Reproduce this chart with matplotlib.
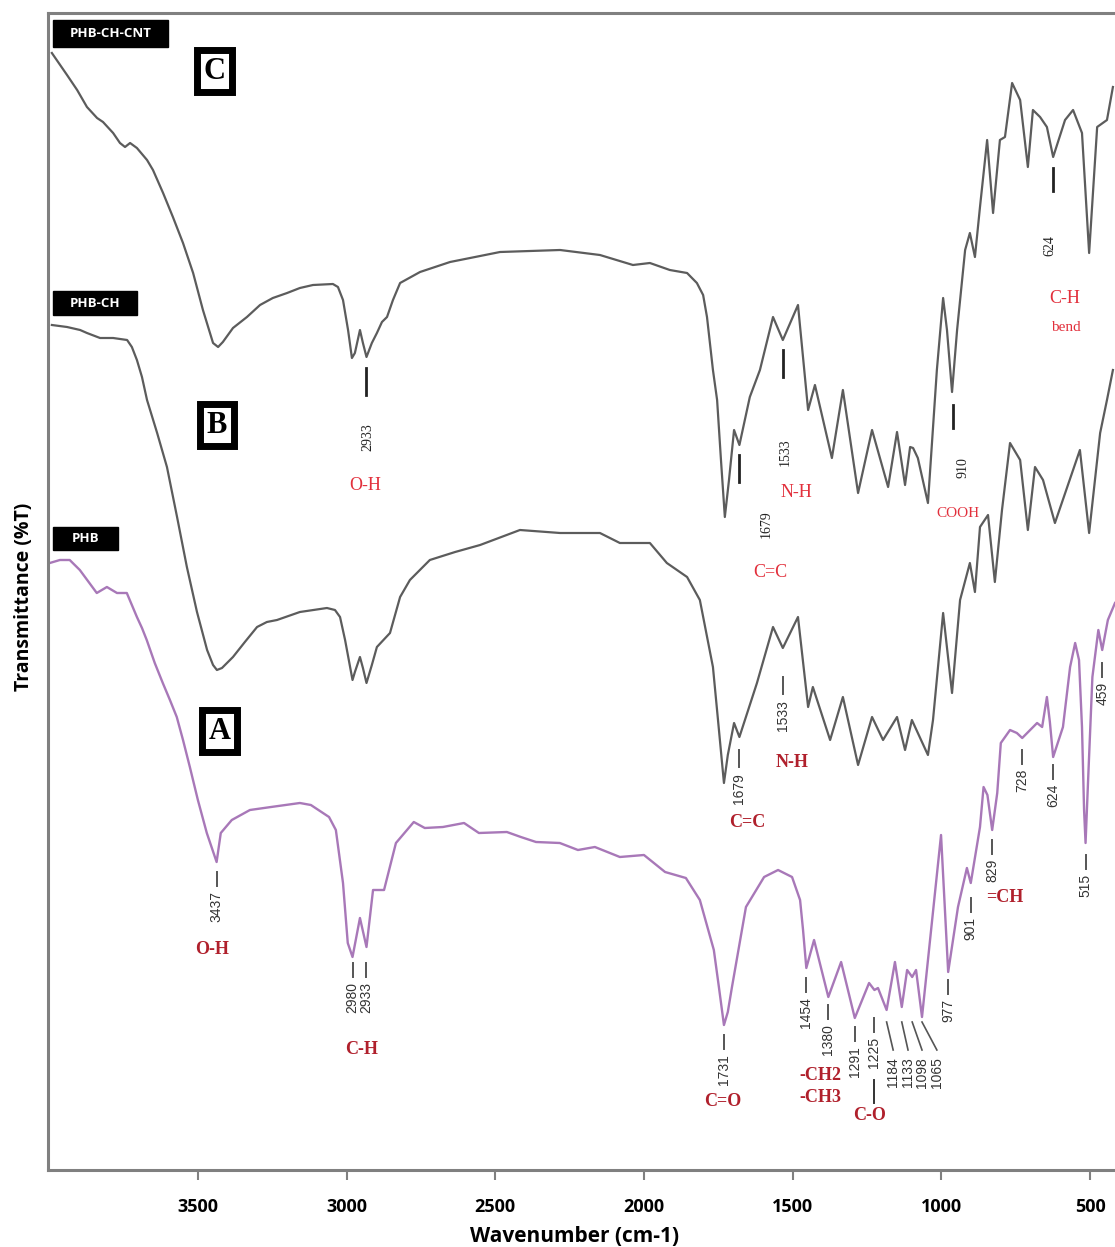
import numpy as np
import matplotlib.pyplot as plt
from matplotlib.patches import Rectangle

# FTIR spectra: wavenumber (cm-1) and offset transmittance (a.u.)
cnt_wn = [3991, 3940, 3906, 3873, 3839, 3819, 3785, 3762, 3745, 3728, 3705, 3671, 3651, 3617,
          3584, 3550, 3516, 3483, 3449, 3432, 3416, 3382, 3335, 3291, 3248, 3200, 3157, 3113,
          3046, 3029, 3012, 2995, 2982, 2972, 2955, 2945, 2933, 2915, 2898, 2881, 2864, 2844,
          2820, 2753, 2652, 2551, 2484, 2383, 2282, 2148, 2037, 1980, 1913, 1855, 1822, 1801,
          1788, 1768, 1754, 1741, 1728, 1714, 1697, 1679, 1644, 1610, 1566, 1533, 1482, 1448,
          1425, 1368, 1331, 1280, 1233, 1179, 1149, 1122, 1105, 1095, 1079, 1045, 1015, 994,
          981, 964, 947, 920, 904, 887, 870, 846, 826, 803, 786, 762, 735, 709, 692, 668, 645,
          624, 584, 557, 527, 503, 476, 443, 423]
cnt_t = [111.7, 109.5, 108.0, 106.3, 105.2, 104.8, 103.7, 102.7, 102.3, 102.7, 102.2, 101.0,
         100.0, 97.7, 95.3, 92.7, 89.7, 86.0, 82.7, 82.3, 82.8, 84.2, 85.3, 86.5, 87.2, 87.7,
         88.2, 88.5, 88.6, 88.3, 87.0, 84.0, 81.2, 81.7, 84.0, 82.7, 81.3, 82.7, 83.7, 84.8,
         85.3, 87.0, 88.7, 89.8, 90.8, 91.4, 91.8, 91.9, 92.0, 91.5, 90.5, 90.7, 90.0, 89.7,
         88.7, 87.5, 85.3, 80.0, 77.0, 71.0, 65.3, 69.0, 74.0, 72.5, 77.3, 80.0, 85.3, 83.0,
         86.5, 76.0, 78.5, 71.2, 78.0, 67.7, 74.0, 68.3, 73.8, 68.5, 72.3, 72.2, 71.2, 66.7,
         80.0, 87.2, 84.0, 77.8, 84.0, 92.0, 93.7, 91.3, 96.3, 103.0, 95.7, 103.0, 103.3, 108.7,
         107.0, 100.3, 106.0, 105.3, 104.3, 101.3, 105.0, 106.0, 103.7, 91.7, 104.3, 105.0,
         108.3]

ch_wn = [3991, 3940, 3896, 3873, 3829, 3785, 3738, 3722, 3705, 3688, 3671, 3637, 3604, 3570,
         3537, 3503, 3469, 3449, 3436, 3419, 3382, 3342, 3301, 3268, 3234, 3157, 3066, 3039,
         3022, 3005, 2980, 2972, 2955, 2945, 2933, 2915, 2898, 2854, 2837, 2820, 2787, 2720,
         2635, 2551, 2417, 2282, 2148, 2081, 1980, 1923, 1855, 1812, 1768, 1751, 1731, 1718,
         1697, 1679, 1620, 1566, 1533, 1482, 1448, 1432, 1374, 1331, 1280, 1233, 1196, 1149,
         1122, 1099, 1045, 1028, 994, 964, 937, 904, 887, 870, 843, 820, 796, 769, 735, 709,
         685, 658, 618, 534, 503, 466, 443, 423]
ch_t = [84.5, 84.3, 84.0, 83.7, 83.2, 83.2, 83.0, 82.3, 81.0, 79.3, 77.0, 73.7, 70.3, 65.3,
        60.3, 55.8, 52.0, 50.5, 50.0, 50.2, 51.3, 52.8, 54.3, 54.8, 55.0, 55.8, 56.2, 56.0,
        55.3, 53.0, 49.0, 49.8, 51.3, 50.2, 48.7, 50.5, 52.3, 53.7, 55.5, 57.3, 59.0, 61.0,
        61.8, 62.5, 64.0, 63.7, 63.7, 62.7, 62.7, 60.7, 59.3, 57.0, 50.3, 45.0, 38.7, 41.5,
        44.7, 43.3, 48.7, 54.3, 52.2, 55.3, 46.3, 48.3, 43.0, 47.3, 40.5, 45.3, 43.0, 45.3,
        42.0, 45.0, 41.5, 45.0, 55.7, 47.7, 57.0, 60.7, 57.8, 64.3, 65.5, 58.8, 66.0, 72.7,
        71.0, 64.0, 70.3, 69.0, 64.7, 72.0, 63.7, 73.7, 77.0, 80.0]

phb_wn = [3998, 3964, 3931, 3897, 3840, 3806, 3772, 3739, 3705, 3688, 3672, 3645, 3618, 3594,
          3571, 3550, 3527, 3500, 3470, 3437, 3423, 3386, 3325, 3254, 3157, 3120, 3059, 3036,
          3012, 2996, 2980, 2955, 2933, 2911, 2874, 2834, 2774, 2737, 2676, 2605, 2555, 2461,
          2414, 2363, 2283, 2222, 2165, 2081, 2000, 1929, 1859, 1812, 1765, 1748, 1731, 1718,
          1704, 1657, 1596, 1549, 1502, 1475, 1465, 1454, 1428, 1380, 1337, 1291, 1243, 1225,
          1213, 1184, 1156, 1133, 1115, 1098, 1085, 1065, 1001, 977, 944, 914, 901, 870, 858,
          845, 829, 812, 800, 769, 746, 728, 678, 661, 645, 635, 624, 591, 567, 550, 537, 527,
          520, 515, 506, 492, 472, 459, 440, 416]
phb_t = [60.7, 61.0, 61.0, 60.0, 57.7, 58.3, 57.7, 57.7, 55.3, 54.2, 53.0, 50.7, 48.7, 47.0,
         45.3, 43.0, 40.3, 37.0, 33.7, 30.8, 33.7, 35.0, 36.0, 36.3, 36.7, 36.5, 35.3, 34.0,
         28.7, 22.7, 21.3, 25.2, 22.3, 28.0, 28.0, 32.7, 34.8, 34.2, 34.3, 34.7, 33.7, 33.8,
         33.3, 32.8, 32.7, 32.0, 32.3, 31.3, 31.5, 29.8, 29.2, 27.0, 22.0, 18.3, 14.5, 15.8,
         18.3, 26.3, 29.3, 30.0, 29.3, 27.0, 24.0, 20.2, 23.0, 17.3, 20.8, 15.2, 18.7, 18.0,
         18.2, 16.0, 20.8, 16.3, 20.0, 19.3, 20.0, 15.3, 33.5, 19.8, 26.3, 30.2, 28.7, 34.3,
         38.3, 37.5, 34.0, 37.7, 42.7, 44.0, 43.7, 43.2, 44.7, 44.3, 47.3, 44.8, 41.3, 44.3,
         50.3, 52.7, 51.0, 44.3, 36.0, 32.7, 39.3, 49.3, 54.0, 52.0, 55.0, 56.7]

# peak labels
phb_peaks = ['3437', '2980', '2933', '1731', '1454', '1380', '1291', '1225',
             '977', '901', '829', '728', '624', '515', '459']
phb_tick_top = [29.8, 20.7, 20.7, 13.5, 19.2, 16.5, 14.3, 15.2,
                19.0, 27.2, 33.0, 42.0, 40.5, 31.5, 50.7]
phb_co_peaks = ['1184', '1133', '1098', '1065']
phb_co_text_wn = [1162, 1112, 1065, 1015]

ch_peaks = ['1679', '1533']
ch_tick_top = [42.0, 49.3]

cnt_peaks = ['2933', '1679', '1533', '910', '624']
cnt_tick_wn = [2933, 1679, 1533, 962, 624]
cnt_tick_top = [80.2, 71.5, 82.0, 76.5, 100.2]
cnt_text_pos = [(2928, 74.7), (1590, 66.0), (1525, 73.2), (927, 71.3), (635, 93.5)]

cnt_groups = [('O-H', 2938, 68.5), ('N-H', 1486, 67.8), ('C=C', 1576, 59.8),
              ('COOH', 944, 65.7), ('C-H', 584, 87.2), ('bend', 581, 84.3)]
ch_groups = [('N-H', 1502, 40.8), ('C=C', 1654, 34.8)]
phb_groups = [('O-H', 3452, 22.0), ('C-H', 2951, 12.0), ('C=O', 1734, 6.8),
              ('-CH2', 1408, 9.5), ('-CH3', 1408, 7.3), ('C-O', 1243, 5.5), ('=CH', 786, 27.2)]

GRAY = '#5c5c5c'
PURPLE = '#a878b8'
DARKRED = '#b0202c'
RED = '#e2303c'
SERIF = 'Liberation Serif'
SANS = 'Liberation Sans'

fig = plt.figure(figsize=(11.15, 12.47), dpi=100)
ax = fig.add_axes([48 / 1115, 77 / 1247, 1067 / 1115, 1157 / 1247])

ax.plot(cnt_wn, cnt_t, color=GRAY, lw=1.6, solid_joinstyle='round')
ax.plot(ch_wn, ch_t, color=GRAY, lw=1.6, solid_joinstyle='round')
ax.plot(phb_wn, phb_t, color=PURPLE, lw=1.7, solid_joinstyle='round')

ax.set_xlim(4004, 416)
ax.set_ylim(0, 115.7)
ax.set_yticks([])
ax.set_xticks([3500, 3000, 2500, 2000, 1500, 1000, 500])
ax.tick_params(axis='x', length=7, width=1.5, color='#808080', pad=13, labelsize=13)
for lab in ax.get_xticklabels():
    lab.set_fontweight('bold')
    lab.set_family('Open Sans')
for side in ['left', 'top', 'bottom']:
    ax.spines[side].set_color('#808080')
    ax.spines[side].set_linewidth(2.2)
ax.spines['right'].set_visible(False)

fig.text(575 / 1115, 1 - 1236 / 1247, 'Wavenumber (cm-1)', ha='center', va='center',
         fontsize=15, fontweight='bold', family='Open Sans')
fig.text(24 / 1115, 1 - 597 / 1247, 'Transmittance (%T)', ha='center', va='center',
         rotation=90, fontsize=14, fontweight='bold', family='Open Sans')

# PHB peak markers
for lab, top in zip(phb_peaks, phb_tick_top):
    wn = float(lab)
    ax.plot([wn, wn], [top, top - 1.4], color='#555555', lw=1.4)
    ax.text(wn, top - 1.9, lab, rotation=90, ha='center', va='top',
            fontsize=10, family=SANS, color='#333333')
for lab, tx in zip(phb_co_peaks, phb_co_text_wn):
    wn = float(lab)
    ax.plot([wn, tx], [14.8, 12.0], color='#555555', lw=1.2)
    ax.text(tx, 11.3, lab, rotation=90, ha='center', va='top',
            fontsize=10, family=SANS, color='#333333')
ax.plot([1226, 1226], [9.0, 6.7], color='#333333', lw=1.4)

# PHB-CH peak markers
for lab, top in zip(ch_peaks, ch_tick_top):
    wn = float(lab)
    ax.plot([wn, wn], [top, top - 1.7], color='#555555', lw=1.4)
    ax.text(wn, top - 2.3, lab, rotation=90, ha='center', va='top',
            fontsize=10, family=SANS, color='#333333')

# PHB-CH-CNT peak markers
for lab, wn, top, (tx, ty) in zip(cnt_peaks, cnt_tick_wn, cnt_tick_top, cnt_text_pos):
    ax.plot([wn, wn], [top, top - (2.7 if lab in ('2933', '1679', '1533') else 2.3)],
            color='#222222', lw=2.0)
    ax.text(tx, ty, lab, rotation=90, ha='center', va='top',
            fontsize=10, family=SERIF, color='#222222')

for txt, x, y in cnt_groups:
    ax.text(x, y, txt, ha='center', va='center', color=RED, family=SERIF,
            fontsize=11 if txt in ('COOH', 'bend') else 13)
for txt, x, y in ch_groups + phb_groups:
    ax.text(x, y, txt, ha='center', va='center', color=DARKRED, family=SERIF,
            fontweight='bold', fontsize=13)

# sample name tags
tags = [('PHB-CH-CNT', 3987, 3600, 112.3, 115.0),
        ('PHB-CH', 3987, 3705, 85.5, 87.9),
        ('PHB', 3987, 3769, 62.0, 64.3)]
for name, x0, x1, y0, y1 in tags:
    ax.add_patch(Rectangle((x0, y0), x1 - x0, y1 - y0, facecolor='black',
                           edgecolor='black', zorder=3))
    ax.text((x0 + x1) / 2, (y0 + y1) / 2, name, ha='center', va='center', color='white',
            fontsize=9.5, fontweight='bold', family='Open Sans', zorder=4)

# panel letters
for letter, x, y in [('C', 3444, 109.9), ('B', 3436, 74.5), ('A', 3427, 43.9)]:
    ax.text(x, y, letter, ha='center', va='center', fontsize=22, family=SERIF,
            fontweight='bold',
            bbox=dict(boxstyle='square,pad=0.22', fc='white', ec='black', lw=5))

fig.savefig('out.png', dpi=100)
